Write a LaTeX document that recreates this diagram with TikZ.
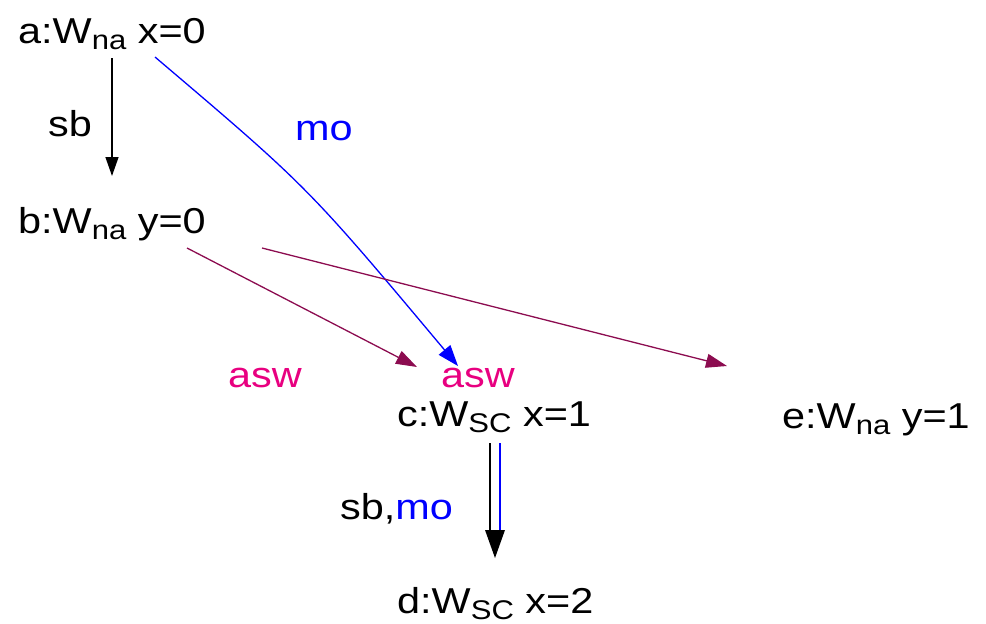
\documentclass[tikz,border=0pt]{standalone}
\usepackage{fontspec}
\setmainfont[FakeStretch=1.15]{Liberation Sans}
\usetikzlibrary{arrows.meta}
\definecolor{aswline}{RGB}{140,12,80}
\definecolor{aswtext}{RGB}{232,0,128}
\newcommand{\sbs}[1]{\raisebox{-6pt}{\fontsize{27}{27}\selectfont #1}}
\begin{document}
\begin{tikzpicture}[x=1pt,y=-1pt,
  lbl/.style={anchor=base west,inner sep=0pt,font=\fontsize{36}{43}\selectfont},
  thinline/.style={line width=1.3pt},
  smalltip/.style={-{Triangle[length=19pt,width=13pt]}}]
\useasboundingbox (0,0) rectangle (986,624);
% nodes
\node[lbl] (a) at (18,43) {a:W\sbs{na} x=0};
\node[lbl] (b) at (18,233) {b:W\sbs{na} y=0};
\node[lbl] (c) at (397,426) {c:W\sbs{SC} x=1};
\node[lbl] (d) at (397,613) {d:W\sbs{SC} x=2};
\node[lbl] (e) at (782,428) {e:W\sbs{na} y=1};
% labels
\node[lbl] (sb) at (48,136) {sb};
\node[lbl,text=blue] (mo) at (295,140) {mo};
\node[lbl,text=aswtext] (asw1) at (228,387) {asw};
\node[lbl,text=aswtext] (asw2) at (441,387) {asw};
\node[lbl] (sbmo) at (340,519) {sb,\textcolor{blue}{mo}};
% connector end points
\coordinate (a-s) at (112,58);
\coordinate (b-n) at (112,176);
\coordinate (a-m) at (155,57);
\coordinate (c-m) at (458,366);
\coordinate (b-1) at (187,248);
\coordinate (c-a) at (417,367);
\coordinate (b-2) at (262,248);
\coordinate (e-a) at (727,366);
\coordinate (c-k) at (490,443);
\coordinate (c-b) at (500,443);
\coordinate (d-t) at (495,558);
% connectors
\draw[thinline,smalltip] (a-s) -- (b-n);
\draw[thinline,blue,-{Triangle[length=21pt,width=15pt]}] (a-m) .. controls (308,187) .. (c-m);
\draw[thinline,aswline,-{Triangle[length=21pt,width=14pt]}] (b-1) -- (c-a);
\draw[thinline,aswline,-{Triangle[length=21pt,width=14pt]}] (b-2) -- (e-a);
\draw[thinline] (c-k) -- (490,531);
\draw[thinline,blue] (c-b) -- (500,531);
\fill (485,530) -- (505,530) -- (d-t) -- cycle;
\end{tikzpicture}
\end{document}
